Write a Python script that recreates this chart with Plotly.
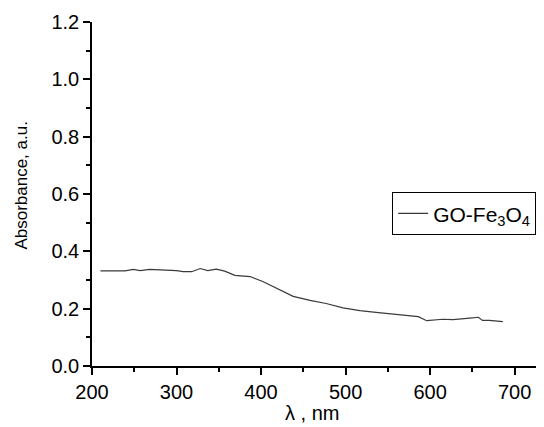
import plotly.graph_objects as go

wavelength = [210, 239, 249, 257, 268, 300, 308, 318, 328, 337, 347, 357, 369, 387, 402,
              418, 438, 458, 477, 497, 517, 536, 556, 576, 586, 596, 603, 615, 627, 635,
              647, 657, 662, 670, 686]
absorbance = [0.332, 0.332, 0.337, 0.333, 0.337, 0.333, 0.329, 0.329, 0.340, 0.333, 0.338, 0.331, 0.316, 0.312, 0.295,
              0.271, 0.243, 0.229, 0.218, 0.203, 0.193, 0.187, 0.180, 0.175, 0.172, 0.158, 0.160, 0.163, 0.162, 0.165,
              0.167, 0.170, 0.159, 0.159, 0.155]
series_name = "GO-Fe<sub>3</sub>O<sub>4</sub>"
x_title = "λ , nm"
y_title = "Absorbance, a.u."

font_family = "Liberation Sans, Arial, sans-serif"

fig = go.Figure()
fig.add_trace(go.Scatter(x=wavelength, y=absorbance, mode="lines", name=series_name,
                         line=dict(color="#3a3a3a", width=1.2)))

fig.update_layout(
    width=536, height=419,
    margin=dict(l=84, r=4, t=14, b=61),
    plot_bgcolor="white", paper_bgcolor="white",
    font=dict(family=font_family, color="black", size=20),
    showlegend=True,
    legend=dict(x=0.67, y=0.505, xanchor="left", yanchor="top",
                bordercolor="black", borderwidth=1, bgcolor="white",
                font=dict(size=21, family=font_family), tracegroupgap=0),
    annotations=[
        dict(text=x_title, xref="paper", yref="paper", x=0.49, y=-0.138,
             xanchor="center", yanchor="middle", showarrow=False, borderpad=0,
             font=dict(size=20, family=font_family, color="black")),
        dict(text=y_title, xref="paper", yref="paper", x=-0.158, y=0.525,
             xanchor="center", yanchor="middle", showarrow=False, textangle=-90,
             font=dict(size=17, family=font_family, color="black")),
    ],
)
fig.update_xaxes(
    range=[200, 730], showgrid=False, zeroline=False,
    showline=True, linecolor="black", linewidth=1.5,
    ticks="outside", ticklen=7, tickwidth=1.5, tickcolor="black",
    tickmode="linear", tick0=200, dtick=100,
    minor=dict(ticks="outside", ticklen=4, tickwidth=1.5, tickcolor="black", dtick=50, tick0=200),
    tickfont=dict(size=20),
)
fig.update_yaxes(
    range=[0, 1.2], showgrid=False, zeroline=False,
    showline=True, linecolor="black", linewidth=1.5,
    ticks="outside", ticklen=7, tickwidth=1.5, tickcolor="black",
    tickmode="linear", tick0=0, dtick=0.2, tickformat=".1f",
    minor=dict(ticks="outside", ticklen=4, tickwidth=1.5, tickcolor="black", dtick=0.1, tick0=0),
    tickfont=dict(size=20),
)

fig.write_html("out.html")
